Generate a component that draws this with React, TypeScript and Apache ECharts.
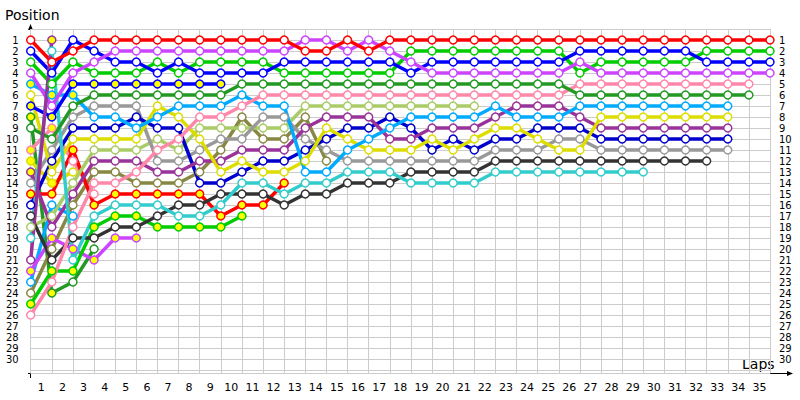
import React, { useEffect, useRef } from "react";
import * as echarts from "echarts";

const laps = Array.from({ length: 35 }, (_, i) => String(i + 1));

// positions per lap, index 0 = grid (lap 0)
const red1 = [1,3,2,1,1,1,1,1,1,1,1,1,1,2,2,1,2,1,1,1,1,1,1,1,1,1,1,1,1,1,1,1,1,1,1,1];
const violet1 = [4,7,4,3,2,2,2,2,2,2,2,2,2,1,1,2,1,2,3,4,4,4,4,4,4,4,3,4,4,4,4,4,4,4,4,4];
const blue1 = [2,4,1,2,3,3,4,3,4,4,4,4,3,3,3,3,3,3,4,3,3,3,3,3,3,3,2,2,2,2,2,2,3,3,3,3];
const green1 = [3,5,3,4,4,4,3,4,3,3,3,3,4,4,4,4,4,4,2,2,2,2,2,2,2,2,4,3,3,3,3,3,2,2,2,2];
const blue2 = [7,8,5,5,5,5,5,5,5,5];
const dkgreen1 = [9,10,7,6,6,6,6,6,6,6,5,5,5,5,5,5,5,5,5,5,5,5,5,5,5,5,6,6,6,6,6,6,6,6,6];
const pink1 = [26,23,18,14,14,13,11,10,8,8,7,6,6,6,6,6,6,6,6,6,6,6,6,6,6,6,5,5,5,5,5,5,5,5,5];
const lightblue1 = [5,6,6,8,8,9,8,7,7,7,6,7,7,13,13,11,10,9,8,8,8,8,7,8,8,8,7,7,7,7,7,7,7,7];
const yellow1 = [6,13,10,10,10,10,7,8,10,13,12,13,13,12,9,10,11,11,11,10,11,10,9,9,10,11,11,8,8,8,8,8,8,8];
const purple1 = [13,18,15,12,12,12,13,13,12,12,11,11,11,9,8,8,8,10,10,9,9,9,8,7,7,7,8,9,9,9,9,9,9,9];
const navy1 = [16,12,9,9,9,8,9,9,14,14,13,12,12,11,10,9,9,8,9,11,10,11,10,10,9,9,9,10,10,10,10,10,10,10];
const gray1 = [14,11,8,7,7,7,12,12,11,10,10,8,8,10,11,12,12,12,12,12,12,12,11,11,11,10,10,11,11,11,11,11,11,11];
const black1 = [17,21,19,19,18,18,17,16,16,15,15,15,16,15,15,14,14,14,13,13,13,13,12,12,12,12,12,12,12,12,12,12,12];
const cyan1 = [19,2,21,17,16,16,16,17,17,16,14,14,15,14,14,13,13,13,14,14,14,14,13,13,13,13,13,13,13,13];
const red2 = [15,15,11,16,15,15,15,15,15,17,16,16,14];
const green2 = [25,22,22,18,17,17,18,18,18,18,17];
const violet2 = [22,19,20,21,19,19];
const ltgreen1 = [18,17,14,11,11,11,10,11,9,9,9,9,9,7,7,7,7,7,7,7,7,7];
const olive1 = [24,20,16,13,13,14,14,14,13,11,8,10,10,8,12];
const purple2 = [21,1];
const dkgreen2 = [8,24,23,20];
const yellow2 = [12,14,13];
const pink2 = [11,9,12,15];
const lightblue2 = [23,16,17];

// laps whose marker is filled yellow
const yellowFill: Record<string, number[]> = {
  lightblue1: [0, 1, 2],
  blue2: [0, 1, 2, 3, 4, 5, 6, 7, 8, 9],
  red2: [0, 1, 2, 3, 4, 5, 6, 7, 8, 9, 10, 11, 12],
  green2: [0, 1, 2, 3, 4, 5, 6, 7, 8, 9, 10],
  violet2: [0, 1, 2, 3, 4, 5],
  purple1: [0],
  purple2: [1],
  dkgreen2: [0, 1],
  yellow2: [0, 1],
  pink2: [0, 1],
};

const drivers: [string, string, number[]][] = [
  ["dkgreen2", "#229922", dkgreen2],
  ["yellow2", "#dddd00", yellow2],
  ["pink2", "#ff88aa", pink2],
  ["lightblue2", "#00aaff", lightblue2],
  ["olive1", "#888844", olive1],
  ["violet2", "#cc44ff", violet2],
  ["green2", "#00cc00", green2],
  ["red2", "#ff0000", red2],
  ["ltgreen1", "#aacc66", ltgreen1],
  ["black1", "#333333", black1],
  ["gray1", "#999999", gray1],
  ["navy1", "#0000cc", navy1],
  ["purple1", "#993399", purple1],
  ["yellow1", "#dddd00", yellow1],
  ["lightblue1", "#00aaff", lightblue1],
  ["pink1", "#ff88aa", pink1],
  ["cyan1", "#33cccc", cyan1],
  ["dkgreen1", "#229922", dkgreen1],
  ["blue2", "#0000ff", blue2],
  ["green1", "#00cc00", green1],
  ["blue1", "#0000ff", blue1],
  ["violet1", "#cc44ff", violet1],
  ["red1", "#ff0000", red1],
  ["purple2", "#993399", purple2],
];

export default function App() {
  const ref = useRef<HTMLDivElement>(null);
  useEffect(() => {
    if (!ref.current) return;
    const chart = echarts.init(ref.current, undefined, { renderer: "svg" });
    const font = "'DejaVu Sans', Verdana, sans-serif";
    const series: any[] = drivers.map(([name, color, pos]) => ({
      name,
      type: "line",
      xAxisIndex: 0,
      yAxisIndex: 0,
      symbol: "circle",
      symbolSize: 8,
      lineStyle: { color, width: 3.5 },
      itemStyle: { color: "#ffffff", borderColor: color, borderWidth: 1.5 },
      data: pos.map((p, i) => {
        const yf = (yellowFill[name] || []).includes(i);
        return yf
          ? { value: [i, p], itemStyle: { color: "#ffff00", borderColor: color, borderWidth: 1.5 } }
          : { value: [i, p] };
      }),
      z: 3,
    }));
    const posLabel = (v: number) => (v >= 1 && v <= 30 ? String(v) : "");
    chart.setOption({
      animation: false,
      backgroundColor: "#ffffff",
      grid: { left: 30.7, right: 30, top: 29, height: 344.3 },
      xAxis: [
        {
          type: "value",
          min: 0,
          max: 35,
          interval: 1,
          axisLine: { show: false },
          axisTick: { show: false },
          axisLabel: { show: false },
          splitLine: { show: true, lineStyle: { color: "#cccccc", width: 1 } },
        },
        {
          type: "category",
          data: laps,
          boundaryGap: true,
          position: "bottom",
          axisLine: { show: false },
          axisTick: { show: false },
          splitLine: { show: false },
          axisLabel: { color: "#000", fontFamily: font, fontSize: 11, margin: 9, interval: 0 },
        },
      ],
      yAxis: [
        {
          type: "value",
          inverse: true,
          min: 0,
          max: 31.3,
          interval: 1,
          axisLine: { show: false },
          axisTick: { show: false },
          axisLabel: {
            color: "#000",
            fontFamily: font,
            fontSize: 10,
            lineHeight: 10,
            margin: 12,
            formatter: posLabel,
          },
          splitLine: { show: true, lineStyle: { color: "#cccccc", width: 1 } },
        },
        {
          type: "value",
          inverse: true,
          min: 0,
          max: 31.3,
          interval: 1,
          position: "right",
          axisLine: { show: false },
          axisTick: { show: false },
          splitLine: { show: false },
          axisLabel: {
            color: "#000",
            fontFamily: font,
            fontSize: 10,
            lineHeight: 10,
            margin: 9,
            formatter: posLabel,
          },
        },
      ],
      graphic: [
        { type: "line", shape: { x1: 30.5, y1: 27, x2: 30.5, y2: 378 }, style: { stroke: "#000", lineWidth: 1 } },
        { type: "polygon", shape: { points: [[30.5, 24], [28, 30], [33, 30]] }, style: { fill: "#000" } },
        { type: "line", shape: { x1: 28, y1: 373.5, x2: 790, y2: 373.5 }, style: { stroke: "#000", lineWidth: 1 } },
        { type: "polygon", shape: { points: [[793, 373.5], [787, 371], [787, 376]] }, style: { fill: "#000" } },
        { type: "text", x: 5, y: 8, style: { text: "Position", fill: "#000", font: `14px ${font}` } },
        { type: "text", x: 742, y: 357, style: { text: "Laps", fill: "#000", font: `14px ${font}` } },
      ],
      series,
    });
    return () => chart.dispose();
  }, []);
  return <div ref={ref} style={{ position: "absolute", left: 0, top: 0, width: 800, height: 400 }} />;
}
